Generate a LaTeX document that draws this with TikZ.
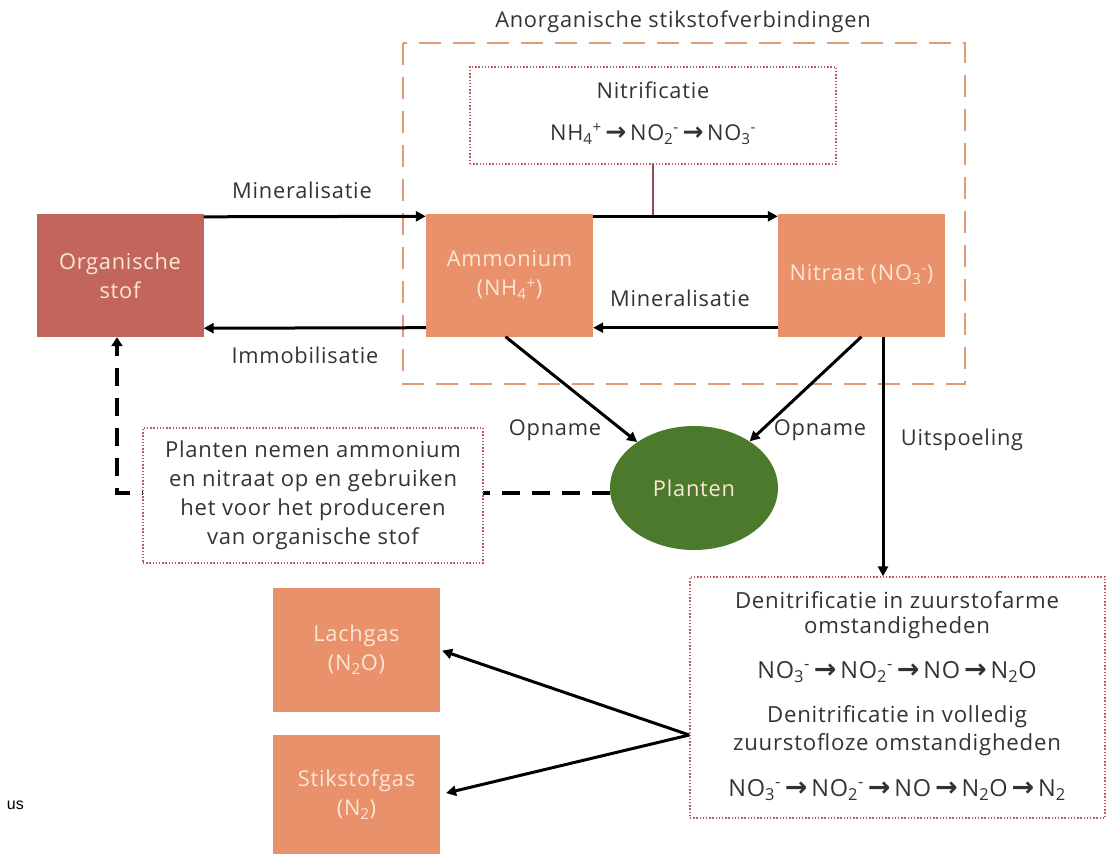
\documentclass[tikz,border=0pt]{standalone}
\usepackage{fontspec}
\setmainfont{Open Sans}[LetterSpace=3.5]
\newfontfamily\symfont{DejaVu Sans}
\newfontfamily\arialfont{Liberation Sans}
\usetikzlibrary{arrows.meta,shapes.geometric}

\definecolor{boxorange}{HTML}{E8916A}
\definecolor{boxred}{HTML}{C2665C}
\definecolor{boxtext}{HTML}{FCE6D6}
\definecolor{plantgreen}{HTML}{4B7A2C}
\definecolor{dashorange}{HTML}{E29A74}
\definecolor{dotred}{HTML}{C05A5A}
\definecolor{linkmauve}{HTML}{8E4B57}
\definecolor{labelgrey}{HTML}{333333}

\newcommand{\yields}{\,{\symfont\bfseries\scalebox{1.15}{→}}\,}
\newcommand{\ion}[2]{\textsubscript{#1}\textsuperscript{#2}}

\begin{document}
\begin{tikzpicture}[x=1pt,y=-1pt,
  every node/.style={font=\fontsize{21.8}{29}\selectfont, text=labelgrey},
  solidbox/.style={draw=none, fill=boxorange, minimum width=167pt, minimum height=123pt,
    align=center, text=boxtext, inner sep=0pt},
  dotbox/.style={draw=dotred, line width=1.4pt, dash pattern=on 1.4pt off 1.8pt, fill=white, inner sep=0pt},
  flowarrow/.style={draw=black, line width=3pt, -{Triangle[length=10pt,width=10pt]}},
  backarrow/.style={draw=black, line width=3.5pt, dash pattern=on 18pt off 12pt,
    -{Triangle[length=9pt,width=11pt]}},
  lbl/.style={inner sep=1pt},
  dentext/.style={inner sep=1pt, font=\fontsize{22.2}{29}\selectfont},
  denform/.style={inner sep=1pt, font=\fontsize{23.5}{29}\selectfont}
]
\useasboundingbox (0,0) rectangle (1119,854);

% group of inorganic nitrogen compounds
\draw[dashorange, line width=2pt, dash pattern=on 22pt off 12pt] (403,43) rectangle (965,384);
\node[lbl] (title) at (683,22) {Anorganische stikstofverbindingen};

% nitrification box
\node[dotbox, minimum width=366pt, minimum height=97pt] (nitbox) at (653,115.5) {};
\node[lbl] (nittitle) at (653,90) {Nitrificatie};
\node[lbl] (nitform) at (653,134) {NH\ion{4}{+}\yields NO\ion{2}{-}\yields NO\ion{3}{-}};

% main compartments
\node[solidbox, fill=boxred] (org) at (120,275.5) {Organische\\stof};
\node[solidbox] (amm) at (509.5,275) {Ammonium\\(NH\ion{4}{+})};
\node[solidbox] (nit) at (861.5,275) {Nitraat (NO\ion{3}{-})};
\node[ellipse, fill=plantgreen, minimum width=168pt, minimum height=124pt, text=boxtext, inner sep=0pt]
  (pl) at (694,488) {Planten};

% link from nitrification box to its flow
\coordinate (nitjoin) at (653,217);
\draw[linkmauve, line width=2.5pt] (nitbox.south) -- (nitjoin);

% flows between compartments
\draw[flowarrow] ([yshift=-3pt]org.north east) -- ([yshift=-3pt]amm.north west);
\draw[flowarrow] ([yshift=-3pt]amm.north east) -- ([yshift=-3pt]nit.north west);
\draw[flowarrow] ([yshift=9pt]nit.south west) -- ([yshift=9pt]amm.south east);
\draw[flowarrow] ([yshift=9pt]amm.south west) -- ([yshift=9pt]org.south east);
\draw[flowarrow] ([xshift=-4pt]amm.south) -- (pl.141);
\draw[flowarrow] (nit.south) -- (pl.40);

\node[lbl] (minA) at (302,190) {Mineralisatie};
\node[lbl] (minB) at (680,298) {Mineralisatie};
\node[lbl] (immo) at (305,355) {Immobilisatie};
\node[lbl] (opnA) at (555,430) {Opname};
\node[lbl] (opnB) at (820,430) {Opname};
\node[lbl] (uitsp) at (962,440) {Uitspoeling};

% uptake by plants back to organic matter
\draw[backarrow] ([yshift=-5pt]pl.west) -| ([xshift=-3pt]org.south);
\node[dotbox, minimum width=340pt, minimum height=135pt, align=center,
  font=\fontsize{22}{29}\selectfont] (note) at (313,495.5)
  {Planten nemen ammonium\\en nitraat op en gebruiken\\het voor het produceren\\van organische stof};

% denitrification
\node[dotbox, minimum width=415pt, minimum height=241pt] (den) at (897.5,697.5) {};
\draw[flowarrow] ([xshift=21.5pt]nit.south) -- ([xshift=21.5pt]nit.south |- den.north);
\node[dentext] (denA1) at (897,600) {Denitrificatie in zuurstofarme};
\node[dentext] (denA2) at (897,628) {omstandigheden};
\node[denform] (denA3) at (897,672) {NO\ion{3}{-}\yields NO\ion{2}{-}\yields NO\yields N\textsubscript{2}O};
\node[dentext] (denB1) at (897,717) {Denitrificatie in volledig};
\node[dentext] (denB2) at (897,745) {zuurstofloze omstandigheden};
\node[denform] (denB3) at (897,790) {NO\ion{3}{-}\yields NO\ion{2}{-}\yields NO\yields N\textsubscript{2}O\yields N\textsubscript{2}};

% gaseous products
\node[solidbox, minimum height=124pt] (lach) at (356.5,650) {Lachgas\\(N\textsubscript{2}O)};
\node[solidbox, minimum height=119pt] (stik) at (356.5,794.5) {Stikstofgas\\(N\textsubscript{2})};
\coordinate (split) at ([yshift=-37.5pt]den.west);
\draw[flowarrow, shorten >=2pt] (split) -- (lach.east);
\draw[flowarrow, shorten >=6pt] (split) -- (stik.east);

\node[anchor=east, inner sep=0pt, font=\arialfont\fontsize{16}{18}\selectfont, text=black] (frag) at (24,805) {us};
\end{tikzpicture}
\end{document}
